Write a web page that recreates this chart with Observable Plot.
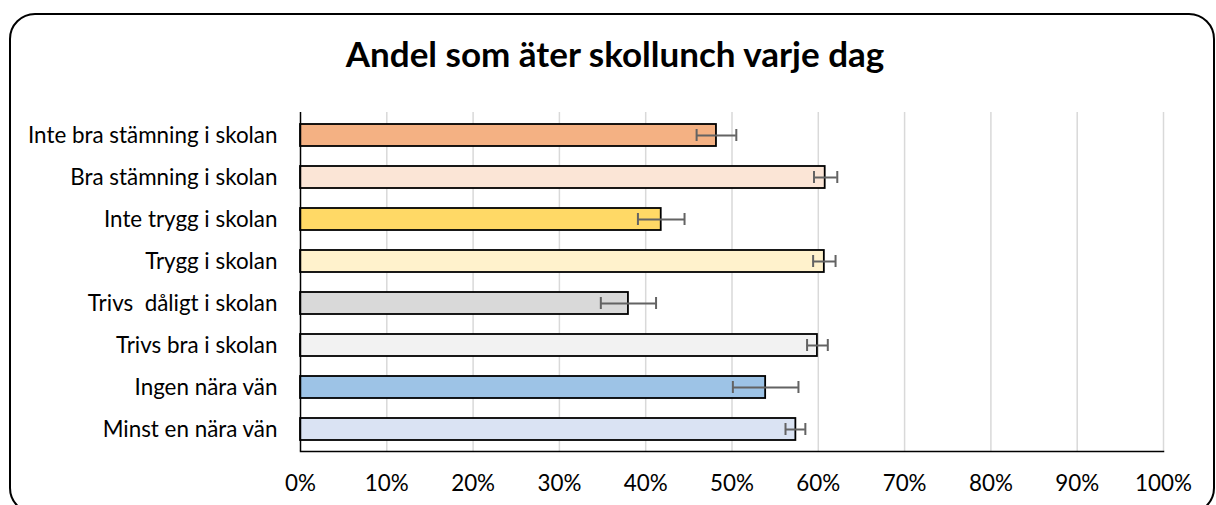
<!DOCTYPE html>
<html>
<head>
<meta charset="utf-8">
<script src="https://cdn.jsdelivr.net/npm/d3@7"></script>
<script src="https://cdn.jsdelivr.net/npm/@observablehq/plot@0.6"></script>
<style>
  html, body { margin: 0; padding: 0; background: #fff; }
  #wrap { position: relative; width: 1216px; height: 505px; overflow: hidden; background: #fff; }
  #frame { position: absolute; left: 9px; top: 13px; width: 1202px; height: 497px; border: 2px solid #000; border-radius: 26px; }
  #title { position: absolute; left: 615px; top: 36px; transform: translateX(-50%); white-space: nowrap;
           font-family: Lato, sans-serif; font-weight: bold; font-size: 35px; line-height: 1; color: #000; }
  #chart { position: absolute; left: 0; top: 0; }
  #chart svg text { white-space: pre; }
</style>
</head>
<body>
<div id="wrap">
  <div id="frame"></div>
  <div id="title">Andel som äter skollunch varje dag</div>
  <div id="chart"></div>
</div>
<script>
const categories = ["Inte bra stämning i skolan", "Bra stämning i skolan", "Inte trygg i skolan", "Trygg i skolan", "Trivs  dåligt i skolan", "Trivs bra i skolan", "Ingen nära vän", "Minst en nära vän"];
const values = [48.2, 60.8, 41.8, 60.7, 38.0, 59.9, 53.9, 57.4];
const lower  = [45.9, 59.5, 39.1, 59.4, 34.8, 58.7, 50.1, 56.2];
const upper  = [50.5, 62.2, 44.5, 62.0, 41.2, 61.1, 57.7, 58.5];
const colors = ["#F4B183", "#FBE5D6", "#FFD966", "#FFF2CC", "#D9D9D9", "#F2F2F2", "#9DC3E6", "#DAE3F3"];
const xTicks = [0, 10, 20, 30, 40, 50, 60, 70, 80, 90, 100];

const data = categories.map((c, i) => ({cat: c, value: values[i], lo: lower[i], hi: upper[i], color: colors[i]}));
const errColor = "#636363";

const chart = Plot.plot({
  width: 1216,
  height: 505,
  marginTop: 112,
  marginBottom: 54,
  marginLeft: 300,
  marginRight: 53,
  style: {fontFamily: "Lato, sans-serif", fontSize: "22.4px", color: "#000", background: "transparent", overflow: "visible"},
  x: {domain: [0, 100], label: null},
  y: {domain: categories, paddingInner: 0.48, paddingOuter: 0.24, label: null},
  color: {type: "identity"},
  marks: [
    Plot.gridX(xTicks.slice(1), {stroke: "#d9d9d9", strokeOpacity: 1, strokeWidth: 1.5}),
    Plot.barX(data, {x: "value", y: "cat", fill: "color", stroke: "#000", strokeWidth: 1.8}),
    Plot.ruleY(data, {y: "cat", x1: "lo", x2: "hi", stroke: errColor, strokeWidth: 2}),
    Plot.tickX(data, {x: "lo", y: "cat", stroke: errColor, strokeWidth: 2, insetTop: 5, insetBottom: 5}),
    Plot.tickX(data, {x: "hi", y: "cat", stroke: errColor, strokeWidth: 2, insetTop: 5, insetBottom: 5}),
    Plot.ruleX([0], {stroke: "#000", strokeWidth: 1.5}),
    Plot.frame({anchor: "bottom", stroke: "#000", strokeWidth: 1.5}),
    Plot.axisX(xTicks, {tickSize: 0, tickPadding: 24, fontSize: 22.4, tickFormat: d => d + "%"}),
    Plot.axisY({tickSize: 0, tickPadding: 23, fontSize: 22.4})
  ]
});
document.getElementById("chart").appendChild(chart);
</script>
</body>
</html>
